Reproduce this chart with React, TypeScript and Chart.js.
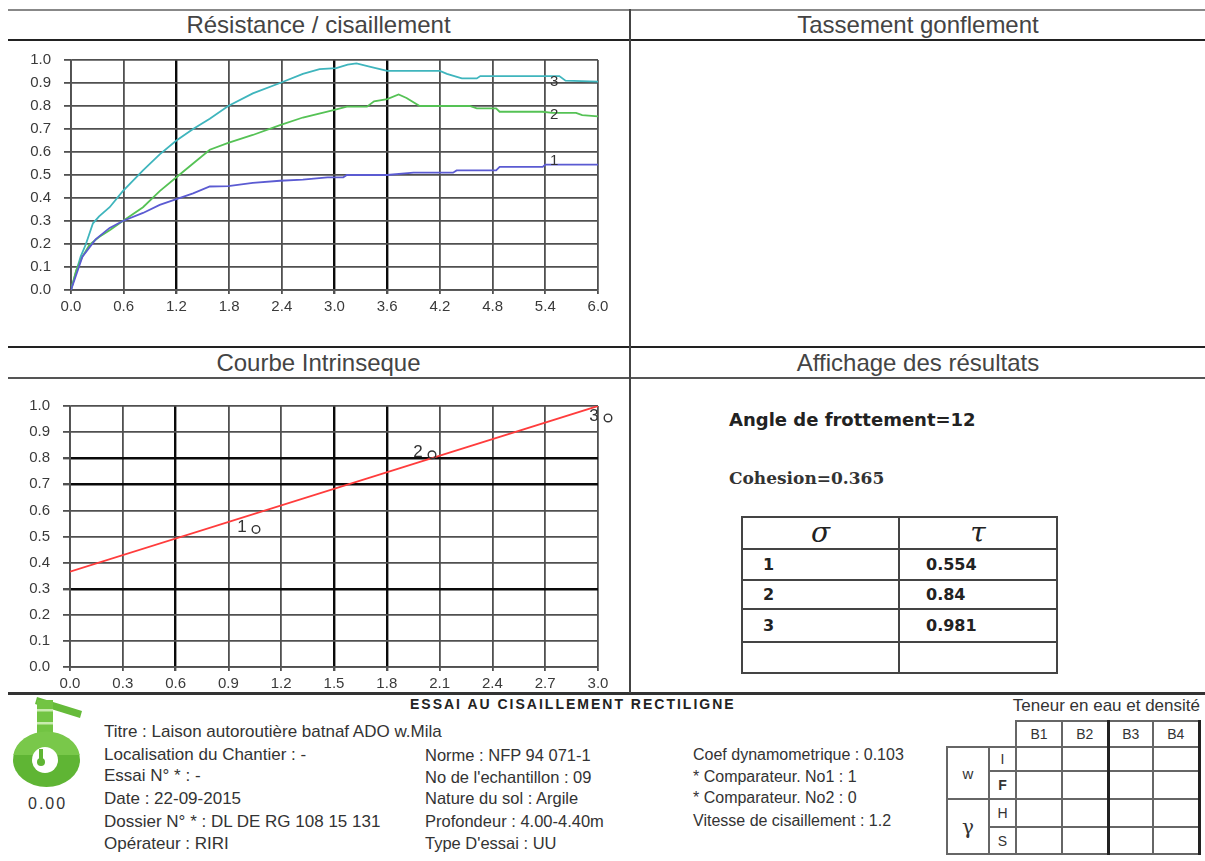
import React, { useEffect, useRef } from "react";
import { Chart, registerables } from "chart.js";

Chart.register(...registerables);

// ---------- Résistance / cisaillement ----------
const shearTicksX = [0, 0.6, 1.2, 1.8, 2.4, 3.0, 3.6, 4.2, 4.8, 5.4, 6.0];
const valueTicksY = [0, 0.1, 0.2, 0.3, 0.4, 0.5, 0.6, 0.7, 0.8, 0.9, 1.0];

const curve1X = [0, 0.13, 0.28, 0.44, 0.59, 0.82, 1.01, 1.2, 1.39, 1.58, 1.79, 2.07, 2.38, 2.64, 2.92, 3.1, 3.14, 3.6, 3.9, 4.35, 4.39, 4.84, 4.88, 5.37, 5.4, 6.0];
const curve1Y = [0, 0.145, 0.22, 0.27, 0.3, 0.335, 0.37, 0.395, 0.42, 0.45, 0.452, 0.466, 0.475, 0.48, 0.49, 0.49, 0.5, 0.5, 0.51, 0.51, 0.52, 0.52, 0.535, 0.535, 0.545, 0.545];

const curve2X = [0, 0.06, 0.13, 0.21, 0.32, 0.44, 0.59, 0.82, 1.01, 1.2, 1.39, 1.58, 1.79, 2.07, 2.38, 2.64, 3.0, 3.14, 3.37, 3.45, 3.6, 3.73, 3.82, 3.97, 4.54, 4.62, 4.84, 4.88, 5.37, 5.48, 5.75, 5.82, 6.0];
const curve2Y = [0, 0.087, 0.145, 0.196, 0.23, 0.26, 0.3, 0.36, 0.43, 0.49, 0.55, 0.61, 0.64, 0.674, 0.717, 0.75, 0.783, 0.797, 0.797, 0.82, 0.83, 0.85, 0.835, 0.8, 0.8, 0.79, 0.79, 0.775, 0.775, 0.77, 0.77, 0.76, 0.755];

const curve3X = [0, 0.05, 0.11, 0.17, 0.25, 0.32, 0.44, 0.59, 0.82, 1.01, 1.2, 1.39, 1.58, 1.79, 2.07, 2.38, 2.64, 2.83, 3.02, 3.15, 3.25, 3.41, 3.6, 4.2, 4.28, 4.45, 4.62, 4.66, 5.56, 5.63, 6.0];
const curve3Y = [0, 0.07, 0.145, 0.2, 0.29, 0.32, 0.36, 0.43, 0.52, 0.59, 0.65, 0.7, 0.745, 0.8, 0.855, 0.9, 0.94, 0.96, 0.965, 0.98, 0.985, 0.97, 0.953, 0.953, 0.94, 0.92, 0.92, 0.93, 0.93, 0.91, 0.906];

const curveNames = ["1", "2", "3"];
const curveLabelX = [5.5, 5.5, 5.5];
const curveLabelY = [0.56, 0.76, 0.905];
const shearDarkX = [1.2, 3.0, 3.6];

// ---------- Courbe intrinsèque ----------
const intrTicksX = [0, 0.3, 0.6, 0.9, 1.2, 1.5, 1.8, 2.1, 2.4, 2.7, 3.0];
const intrLineX = [0, 3.0];
const intrLineY = [0.365, 1.0];
const sigmaValues = [1, 2, 3];
const tauValues = [0.554, 0.84, 0.981];
const intrDarkX = [0.6, 1.5, 1.8];
const intrDarkY = [0.3, 0.7, 0.8];

const GRID = "#505050";
const GRID_DARK = "#0a0a0a";

const near = (v: number | undefined, list: number[]) =>
  v !== undefined && list.some((d) => Math.abs(d - v) < 1e-6);

const pts = (xs: number[], ys: number[]) => xs.map((x, i) => ({ x, y: ys[i] }));

function axis(ticks: number[], dark: number[], isX: boolean, size: number) {
  return {
    type: "linear" as const,
    min: ticks[0],
    max: ticks[ticks.length - 1],
    afterBuildTicks: (s: any) => {
      s.ticks = ticks.map((v) => ({ value: v }));
    },
    afterFit: (s: any) => {
      if (isX) {
        s.height = size;
      } else {
        s.width = size;
        s.paddingTop = 0;
        s.paddingBottom = 0;
      }
    },
    grid: {
      drawTicks: true,
      tickLength: isX ? 4 : 7,
      tickColor: GRID,
      color: (c: any) => (near(c.tick?.value, dark) ? GRID_DARK : GRID),
      lineWidth: (c: any) => (near(c.tick?.value, dark) ? 2.4 : 1.8),
    },
    border: { display: true, color: GRID, width: 1.8 },
    ticks: {
      autoSkip: false,
      maxRotation: 0,
      padding: isX ? 4 : 13,
      color: "#3a3a3a",
      font: { family: "Liberation Sans", size: 15 },
      callback: (v: any) => Number(v).toFixed(1),
    },
  };
}

const shearLabels = {
  id: "shearLabels",
  afterDatasetsDraw(chart: any) {
    const { ctx, scales } = chart;
    ctx.save();
    ctx.font = "15px Liberation Sans";
    ctx.fillStyle = "#333";
    ctx.textAlign = "center";
    ctx.textBaseline = "middle";
    curveNames.forEach((n, i) => {
      ctx.fillText(n, scales.x.getPixelForValue(curveLabelX[i]), scales.y.getPixelForValue(curveLabelY[i]));
    });
    ctx.restore();
  },
};

const intrLabels = {
  id: "intrLabels",
  afterDatasetsDraw(chart: any) {
    const { ctx, scales } = chart;
    ctx.save();
    ctx.font = "17px Liberation Sans";
    ctx.fillStyle = "#333";
    ctx.strokeStyle = "#333";
    ctx.lineWidth = 1.4;
    ctx.textAlign = "center";
    ctx.textBaseline = "middle";
    sigmaValues.forEach((s, i) => {
      const px = scales.x.getPixelForValue(s);
      const py = scales.y.getPixelForValue(tauValues[i]);
      ctx.fillText(String(i + 1), px - 4, py + 5);
      ctx.beginPath();
      ctx.arc(px + 10, py + 7, 3.8, 0, Math.PI * 2);
      ctx.stroke();
    });
    ctx.restore();
  },
};

const baseLine = { pointRadius: 0, pointHoverRadius: 0, pointHitRadius: 0, borderWidth: 1.8, tension: 0, showLine: true };

function ShearChart() {
  const ref = useRef<HTMLCanvasElement>(null);
  useEffect(() => {
    const chart = new Chart(ref.current!, {
      type: "scatter",
      data: {
        datasets: [
          { ...baseLine, data: pts(curve1X, curve1Y), borderColor: "#5b5bd2" },
          { ...baseLine, data: pts(curve2X, curve2Y), borderColor: "#55c255" },
          { ...baseLine, data: pts(curve3X, curve3Y), borderColor: "#3fb5bd" },
        ],
      },
      options: {
        animation: false,
        responsive: true,
        maintainAspectRatio: false,
        events: [],
        layout: { autoPadding: false, padding: { top: 16, right: 22, left: 0, bottom: 0 } },
        plugins: { legend: { display: false }, tooltip: { enabled: false } },
        scales: {
          x: axis(shearTicksX, shearDarkX, true, 30),
          y: axis(valueTicksY, [], false, 63),
        },
      } as any,
      plugins: [shearLabels],
    });
    return () => chart.destroy();
  }, []);
  return <canvas ref={ref} />;
}

function IntrChart() {
  const ref = useRef<HTMLCanvasElement>(null);
  useEffect(() => {
    const chart = new Chart(ref.current!, {
      type: "scatter",
      data: {
        datasets: [{ ...baseLine, data: pts(intrLineX, intrLineY), borderColor: "#ff3c3c" }],
      },
      options: {
        animation: false,
        responsive: true,
        maintainAspectRatio: false,
        events: [],
        layout: { autoPadding: false, padding: { top: 18, right: 22, left: 0, bottom: 0 } },
        plugins: { legend: { display: false }, tooltip: { enabled: false } },
        scales: {
          x: axis(intrTicksX, intrDarkX, true, 21),
          y: axis(valueTicksY, intrDarkY, false, 62),
        },
      } as any,
      plugins: [intrLabels],
    });
    return () => chart.destroy();
  }, []);
  return <canvas ref={ref} />;
}

const abs = (l: number, t: number, w: number, h: number, bg: string): React.CSSProperties => ({
  position: "absolute",
  left: l,
  top: t,
  width: w,
  height: h,
  background: bg,
});

const footFont: React.CSSProperties = {
  fontFamily: "Liberation Sans",
  fontSize: 16.5,
  color: "#333",
  whiteSpace: "nowrap",
  position: "absolute",
  lineHeight: "22px",
};

function T({ x, y, children, style }: { x: number; y: number; children: any; style?: React.CSSProperties }) {
  return <div style={{ ...footFont, left: x, top: y - 11, ...style }}>{children}</div>;
}

const footLeft = [
  "Titre : Laison autoroutière batnaf ADO w.Mila",
  "Localisation du Chantier : -",
  "Essai N° * : -",
  "Date : 22-09-2015",
  "Dossier N° * : DL DE RG 108 15 131",
  "Opérateur : RIRI",
];
const footLeftY = [732, 755, 776, 799, 822, 844];
const footMid = [
  "Norme : NFP 94 071-1",
  "No de l'echantillon : 09",
  "Nature du sol : Argile",
  "Profondeur : 4.00-4.40m",
  "Type D'essai : UU",
];
const footMidY = [755, 777, 798, 821, 843];
const footRight = [
  "Coef dynamometrique : 0.103",
  "* Comparateur. No1 : 1",
  "* Comparateur. No2 : 0",
  "Vitesse de cisaillement : 1.2",
];
const footRightY = [755, 777, 798, 821];

const resRows = [
  ["1", "0.554"],
  ["2", "0.84"],
  ["3", "0.981"],
  ["", ""],
];
const resRowH = [31, 29, 33, 31];

function ResultsTable() {
  const cell: React.CSSProperties = { border: "2px solid #444", padding: 0 };
  const num: React.CSSProperties = { fontFamily: "DejaVu Sans", fontWeight: "bold", fontSize: 16, color: "#222" };
  const greek: React.CSSProperties = { ...cell, textAlign: "center", fontFamily: "DejaVu Serif", fontStyle: "italic", fontSize: 28, color: "#222", lineHeight: "28px" };
  return (
    <table
      style={{ position: "absolute", left: 741, top: 516, width: 315, borderCollapse: "collapse", tableLayout: "fixed" }}
    >
      <colgroup>
        <col style={{ width: 157 }} />
        <col style={{ width: 158 }} />
      </colgroup>
      <tbody>
        <tr style={{ height: 32 }}>
          <td style={greek}>σ</td>
          <td style={greek}>τ</td>
        </tr>
        {resRows.map((r, i) => (
          <tr key={i} style={{ height: resRowH[i] }}>
            <td style={{ ...cell, ...num, paddingLeft: 20 }}>{r[0]}</td>
            <td style={{ ...cell, ...num, paddingLeft: 26 }}>{r[1]}</td>
          </tr>
        ))}
      </tbody>
    </table>
  );
}

const densCols = ["B1", "B2", "B3", "B4"];
const densRows = [
  ["w", "I"],
  ["", "F"],
  ["γ", "H"],
  ["", "S"],
];
const densRowH = [24, 28, 28, 27];

function DensityTable() {
  const b = "2px solid #666";
  const thick = "3px solid #222";
  const cellBase: React.CSSProperties = { border: b, padding: 0, fontFamily: "Liberation Sans", fontSize: 14, color: "#333", textAlign: "center" };
  const colStyle = (j: number): React.CSSProperties => ({
    ...cellBase,
    borderLeft: j === 2 ? thick : b,
    borderRight: j === 3 ? thick : b,
  });
  return (
    <table style={{ position: "absolute", left: 946, top: 720, width: 252, borderCollapse: "collapse", tableLayout: "fixed" }}>
      <colgroup>
        <col style={{ width: 42 }} />
        <col style={{ width: 27 }} />
        <col style={{ width: 46 }} />
        <col style={{ width: 46 }} />
        <col style={{ width: 45 }} />
        <col style={{ width: 46 }} />
      </colgroup>
      <tbody>
        <tr style={{ height: 26 }}>
          <td colSpan={2} style={{ border: "none" }} />
          {densCols.map((c, j) => (
            <td key={c} style={colStyle(j)}>{c}</td>
          ))}
        </tr>
        {densRows.map((r, i) => (
          <tr key={i} style={{ height: densRowH[i] }}>
            {i % 2 === 0 && (
              <td rowSpan={2} style={{ ...cellBase, fontSize: r[0] === "γ" ? 20 : 15, fontFamily: r[0] === "γ" ? "DejaVu Serif" : "Liberation Sans" }}>
                {r[0]}
              </td>
            )}
            <td style={{ ...cellBase, fontWeight: r[1] === "F" ? "bold" : "normal" }}>{r[1]}</td>
            {densCols.map((c, j) => (
              <td key={c} style={colStyle(j)} />
            ))}
          </tr>
        ))}
      </tbody>
    </table>
  );
}

function Logo() {
  // local coords: page minus (8, 694)
  return (
    <svg style={{ position: "absolute", left: 8, top: 694 }} width={84} height={98} viewBox="0 0 84 98">
      <polygon points="29,3 74,17 72,24 27,10" fill="#66bb3a" />
      <rect x={29} y={6} width={16} height={38} fill="#72c443" />
      <rect x={29} y={15} width={16} height={2.5} fill="#c9ebb0" />
      <rect x={29} y={28} width={16} height={2.5} fill="#c9ebb0" />
      <ellipse cx={38.5} cy={66} rx={33.5} ry={27} fill="#5fb534" />
      <path d="M5.3,61 A33.5,27 0 0 1 71.7,61 Z" fill="#79c84a" />
      <circle cx={37} cy={66} r={13} fill="#ffffff" />
      <rect x={31} y={55} width={4} height={11} fill="#5fb534" />
      <circle cx={33} cy={68} r={4} fill="#5fb534" />
    </svg>
  );
}

export default function App() {
  const title: React.CSSProperties = {
    position: "absolute",
    textAlign: "center",
    fontFamily: "Liberation Sans",
    fontSize: 24,
    color: "#444",
    whiteSpace: "nowrap",
  };
  return (
    <div style={{ position: "absolute", left: 0, top: 0, width: 1205, height: 861, background: "#fff", overflow: "hidden" }}>
      {/* frame lines */}
      <div style={abs(8, 9, 1197, 2, "#888")} />
      <div style={abs(8, 39, 1197, 2, "#222")} />
      <div style={abs(8, 346, 1197, 2, "#222")} />
      <div style={abs(8, 377, 1197, 2, "#555")} />
      <div style={abs(8, 692, 1197, 3, "#333")} />
      <div style={abs(629, 9, 2, 684, "#444")} />

      {/* panel headers */}
      <div style={{ ...title, left: 8, width: 621, top: 11, height: 28, lineHeight: "28px" }}>Résistance / cisaillement</div>
      <div style={{ ...title, left: 631, width: 574, top: 11, height: 28, lineHeight: "28px" }}>Tassement gonflement</div>
      <div style={{ ...title, left: 8, width: 621, top: 348, height: 29, lineHeight: "29px" }}>Courbe Intrinseque</div>
      <div style={{ ...title, left: 631, width: 574, top: 348, height: 29, lineHeight: "29px" }}>Affichage des résultats</div>

      {/* charts */}
      <div style={{ position: "absolute", left: 8, top: 44, width: 612, height: 276 }}>
        <ShearChart />
      </div>
      <div style={{ position: "absolute", left: 8, top: 388, width: 612, height: 300 }}>
        <IntrChart />
      </div>

      {/* results */}
      <div style={{ position: "absolute", left: 729, top: 409, lineHeight: "22px", fontFamily: "DejaVu Sans", fontWeight: "bold", fontSize: 18, color: "#222", whiteSpace: "nowrap" }}>
        Angle de frottement=12
      </div>
      <div style={{ position: "absolute", left: 729, top: 467, lineHeight: "22px", fontFamily: "DejaVu Serif", fontWeight: "bold", fontSize: 17, color: "#333", whiteSpace: "nowrap" }}>
        Cohesion=0.365
      </div>
      <ResultsTable />

      {/* footer */}
      <Logo />
      <T x={28} y={804} style={{ fontSize: 16, letterSpacing: 2 }}>0.00</T>
      <T x={410} y={704} style={{ fontWeight: "bold", fontSize: 14, letterSpacing: 2, color: "#222" }}>
        ESSAI AU CISAILLEMENT RECTILIGNE
      </T>
      {footLeft.map((s, i) => (
        <T key={s} x={104} y={footLeftY[i]} style={{ fontSize: 17 }}>{s}</T>
      ))}
      {footMid.map((s, i) => (
        <T key={s} x={425} y={footMidY[i]}>{s}</T>
      ))}
      {footRight.map((s, i) => (
        <T key={s} x={693} y={footRightY[i]} style={{ fontSize: 16 }}>{s}</T>
      ))}
      <div style={{ ...footFont, fontSize: 17, right: 5, top: 695 }}>Teneur en eau et densité</div>
      <DensityTable />
    </div>
  );
}
